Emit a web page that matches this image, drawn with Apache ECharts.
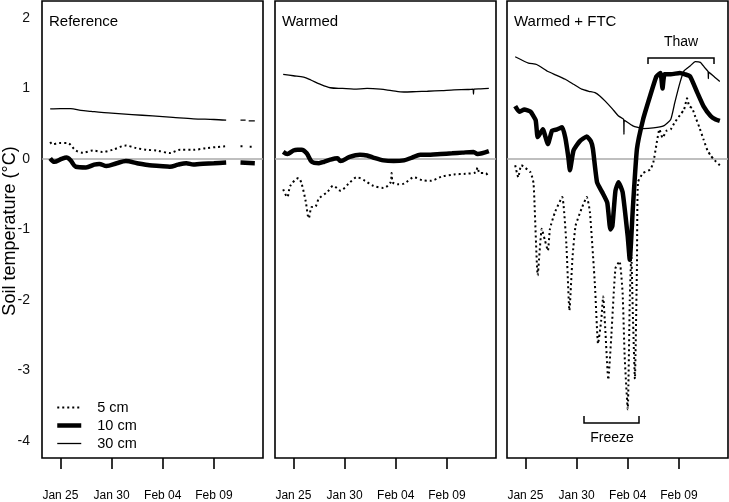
<!DOCTYPE html>
<html>
<head>
<meta charset="utf-8">
<script src="https://cdn.jsdelivr.net/npm/echarts@6/dist/echarts.min.js"></script>
<style>
html,body{margin:0;padding:0;background:#fff;}
#chart{width:729px;height:502px;}
</style>
</head>
<body>
<div id="chart"></div>
<script>
// x values are day numbers counted from Jan 0 (Jan 25 = 25, Feb 04 = 35)
const tickDays = [25, 30, 35, 40];
const tickLabels = ['Jan 25', 'Jan 30', 'Feb 04', 'Feb 09'];
const yTicks = [-4, -3, -2, -1, 0, 1, 2];
const panelNames = ['Reference', 'Warmed', 'Warmed + FTC'];
const depthNames = ['5 cm', '10 cm', '30 cm'];

// Reference
const ref5Days = [24, 24.2, 24.9, 25.7, 26.5, 27.2, 28.2, 29.1, 30.1, 31.4, 32.4, 33.4, 34.4, 35.7, 36.7, 38.0, 39.3, 40.3, 41.2, 41.9, 42.6, 43.0, 43.2, 43.5, 44.0];
const ref5Vals = [0.24, 0.21, 0.225, 0.225, 0.12, 0.09, 0.12, 0.10, 0.13, 0.19, 0.155, 0.13, 0.12, 0.085, 0.13, 0.13, 0.155, 0.17, 0.18, null, 0.18, 0.18, null, 0.175, 0.175];
const ref10Days = [24, 24.4, 25.1, 25.6, 26.0, 26.5, 27.5, 28.3, 28.8, 29.5, 30.5, 31.4, 32.5, 33.7, 34.7, 35.7, 36.5, 37.3, 38.0, 38.6, 40.0, 41.2, 41.9, 42.6, 44.0];
const ref10Vals = [0.01, -0.04, 0.0, 0.02, -0.02, -0.11, -0.12, -0.08, -0.07, -0.10, -0.06, -0.03, -0.06, -0.09, -0.10, -0.11, -0.08, -0.06, -0.08, -0.07, -0.06, -0.05, null, -0.05, -0.06];
const ref30Days = [24, 25, 26, 27, 28, 29, 30, 32, 34, 36, 38, 40, 41.2, 41.9, 42.6, 43.1, 43.25, 43.4, 44.0];
const ref30Vals = [0.71, 0.715, 0.715, 0.69, 0.675, 0.66, 0.65, 0.63, 0.61, 0.59, 0.57, 0.56, 0.55, null, 0.55, 0.55, null, 0.54, 0.54];

// Warmed
const warm5Days = [24.0, 24.4, 24.7, 25.5, 25.8, 26.2, 26.5, 26.8, 27.1, 27.5, 28.3, 28.9, 29.6, 30.4, 31.2, 32.0, 32.8, 33.8, 34.5, 34.6, 34.7, 35.2, 35.8, 36.8, 37.6, 38.4, 39.5, 40.7, 41.8, 42.8, 43.0, 43.2, 43.8, 44.0];
const warm5Vals = [-0.43, -0.54, -0.38, -0.27, -0.35, -0.60, -0.84, -0.68, -0.68, -0.56, -0.47, -0.38, -0.45, -0.35, -0.26, -0.31, -0.38, -0.41, -0.33, -0.20, -0.33, -0.36, -0.35, -0.26, -0.30, -0.31, -0.25, -0.22, -0.21, -0.19, -0.12, -0.20, -0.20, -0.24];
const warm10Days = [24.0, 24.4, 25.0, 25.4, 25.8, 26.3, 26.8, 27.5, 28.0, 28.6, 29.3, 29.6, 30.5, 31.5, 32.2, 32.8, 33.8, 34.8, 35.8, 36.6, 37.4, 38.4, 39.4, 40.5, 41.5, 42.6, 43.0, 44.1];
const warm10Vals = [0.10, 0.07, 0.12, 0.13, 0.13, 0.08, -0.04, -0.06, -0.04, -0.01, 0.01, -0.03, 0.03, 0.06, 0.05, 0.02, -0.02, -0.03, -0.02, 0.02, 0.06, 0.06, 0.07, 0.08, 0.09, 0.10, 0.07, 0.11];
const warm30Days = [24, 25, 26, 26.7, 27.6, 28.6, 29.8, 30.9, 32.2, 33.5, 34.6, 35.8, 37.0, 38.1, 39.5, 40.7, 42.0, 42.55, 42.6, 42.65, 43.3, 44.1];
const warm30Vals = [1.20, 1.18, 1.16, 1.12, 1.06, 1.01, 1.0, 0.99, 1.0, 0.99, 0.97, 0.95, 0.955, 0.96, 0.97, 0.98, 0.985, 0.99, 0.92, 0.99, 0.995, 1.0];

// Warmed + FTC
const ftc5Days = [24.0, 24.3, 24.6, 25.5, 25.8, 26.2, 26.6, 26.9, 27.2, 27.4, 27.9, 28.6, 29.0, 29.3, 29.6, 29.9, 30.5, 31.0, 31.3, 31.8, 32.1, 32.4, 32.6, 32.8, 33.1, 33.4, 33.8, 34.2, 34.5, 34.7, 35.0, 35.2, 35.35, 35.5, 35.7, 35.9, 36.0, 36.5, 37.2, 37.5, 37.8, 38.1, 38.4, 38.8, 39.2, 39.6, 40.1, 40.5, 40.8, 41.0, 41.3, 41.6, 42.0, 42.4, 42.8, 43.1, 43.5, 44.0];
const ftc5Vals = [-0.09, -0.26, -0.09, -0.19, -0.35, -1.65, -0.99, -1.15, -1.30, -0.99, -0.75, -0.54, -1.20, -2.15, -1.40, -0.95, -0.70, -0.54, -0.75, -1.80, -2.62, -2.30, -1.95, -2.40, -3.13, -2.50, -1.55, -1.45, -1.90, -2.80, -3.55, -2.00, -1.35, -2.20, -3.12, -1.50, -0.33, -0.20, -0.15, -0.05, 0.20, 0.42, 0.30, 0.40, 0.42, 0.52, 0.62, 0.70, 0.86, 0.75, 0.72, 0.60, 0.45, 0.28, 0.12, 0.05, -0.02, -0.09];
const ftc10Days = [24.0, 24.4, 24.9, 25.5, 26.0, 26.2, 26.7, 27.2, 27.6, 28.1, 28.6, 28.9, 29.2, 29.35, 29.7, 30.3, 31.0, 31.4, 31.6, 32.0, 32.5, 33.0, 33.3, 33.5, 33.8, 34.1, 34.5, 35.0, 35.2, 35.5, 35.9, 36.5, 37.2, 37.8, 38.2, 38.4, 38.6, 39.2, 40.1, 40.6, 41.1, 41.8, 42.4, 43.1, 43.6, 44.0];
const ftc10Vals = [0.75, 0.67, 0.70, 0.67, 0.55, 0.31, 0.42, 0.21, 0.40, 0.42, 0.45, 0.30, 0.02, -0.16, 0.12, 0.25, 0.32, 0.25, 0.14, -0.33, -0.47, -0.62, -1.0, -0.95, -0.45, -0.33, -0.47, -1.1, -1.43, -0.7, 0.14, 0.56, 0.9, 1.17, 1.22, 1.0, 1.2, 1.2, 1.22, 1.2, 1.17, 0.94, 0.75, 0.61, 0.56, 0.54];
const ftc30Days = [24.0, 25.3, 26.1, 27.2, 28.0, 28.9, 29.7, 30.5, 31.2, 31.8, 32.3, 32.8, 33.5, 34.1, 34.6, 34.63, 34.66, 35.5, 36.5, 37.5, 38.5, 39.2, 39.6, 40.1, 40.5, 41.1, 41.6, 42.1, 42.5, 42.85, 42.88, 42.92, 43.5, 44.0];
const ftc30Vals = [1.45, 1.36, 1.34, 1.24, 1.19, 1.13, 1.06, 0.99, 0.96, 0.94, 0.89, 0.82, 0.71, 0.61, 0.56, 0.35, 0.55, 0.47, 0.43, 0.44, 0.47, 0.56, 0.80, 1.08, 1.25, 1.32, 1.38, 1.37, 1.30, 1.24, 1.14, 1.23, 1.16, 1.10];

const panels = [
  [[ref5Days, ref5Vals], [ref10Days, ref10Vals], [ref30Days, ref30Vals]],
  [[warm5Days, warm5Vals], [warm10Days, warm10Vals], [warm30Days, warm30Vals]],
  [[ftc5Days, ftc5Vals], [ftc10Days, ftc10Vals], [ftc30Days, ftc30Vals]]
];

const FONT = 'Liberation Sans, Arial, sans-serif';
const lefts = [42, 275, 507];
const styles = [
  {color: '#000', width: 2, type: [2, 3]},
  {color: '#000', width: 4.5, type: 'solid'},
  {color: '#000', width: 1.3, type: 'solid'}
];

const grid = lefts.map(l => ({left: l, top: 1, width: 221, height: 460, show: true, borderColor: '#000', borderWidth: 1.6, backgroundColor: 'transparent'}));
const xAxis = lefts.map((l, i) => ({
  type: 'value', gridIndex: i, min: 23.2, max: 44.8, position: 'bottom',
  axisLine: {show: false, onZero: false}, splitLine: {show: false},
  axisTick: {show: true, customValues: tickDays, length: 11, lineStyle: {color: '#000', width: 1.6}},
  axisLabel: {show: true, customValues: tickDays, margin: 32, fontSize: 12, color: '#000', fontFamily: FONT,
    formatter: v => tickLabels[tickDays.indexOf(v)]}
}));
const yAxis = lefts.map((l, i) => ({
  type: 'value', gridIndex: i, min: -4.24, max: 2.24,
  axisLine: {show: false, onZero: false}, splitLine: {show: false}, axisTick: {show: false},
  axisLabel: {show: i === 0, customValues: yTicks, margin: 12, fontSize: 14, color: '#111', fontFamily: FONT}
}));

const series = [];
panels.forEach((p, gi) => {
  p.forEach((s, di) => {
    const [days, vals] = s;
    const ser = {
      name: depthNames[di], type: 'line', xAxisIndex: gi, yAxisIndex: gi,
      data: days.map((d, k) => [d, vals[k] === null ? '-' : vals[k]]),
      showSymbol: false, symbol: 'none', smooth: gi === 2 ? 0.15 : 0.3,
      lineStyle: styles[di], itemStyle: {color: '#000'}, z: 3, animation: false,
      emphasis: {disabled: true}
    };
    if (di === 0) {
      ser.markLine = {silent: true, symbol: 'none', animation: false, z: 1,
        label: {show: false}, lineStyle: {color: '#aaa', width: 1.5, type: 'solid'},
        data: [{yAxis: 0}]};
    }
    series.push(ser);
  });
});

const graphic = [
  {type: 'text', x: 10, y: 231, rotation: Math.PI / 2,
    style: {text: 'Soil temperature (°C)', font: '18px ' + FONT, fill: '#000', align: 'center', verticalAlign: 'middle'}},
  ...panelNames.map((n, i) => ({type: 'text', x: lefts[i] + 7, y: 22,
    style: {text: n, font: '15px ' + FONT, fill: '#000', align: 'left', verticalAlign: 'middle'}})),
  {type: 'polyline', shape: {points: [[648, 64], [648, 58], [714, 58], [714, 64]]}, style: {stroke: '#000', lineWidth: 1.5, fill: null}},
  {type: 'text', x: 681, y: 42, style: {text: 'Thaw', font: '14px ' + FONT, fill: '#000', align: 'center', verticalAlign: 'middle'}},
  {type: 'polyline', shape: {points: [[584, 416], [584, 423], [639, 423], [639, 416]]}, style: {stroke: '#000', lineWidth: 1.5, fill: null}},
  {type: 'text', x: 612, y: 438, style: {text: 'Freeze', font: '14px ' + FONT, fill: '#000', align: 'center', verticalAlign: 'middle'}}
];

const chart = echarts.init(document.getElementById('chart'), null, {renderer: 'canvas'});
chart.setOption({
  backgroundColor: '#fff',
  animation: false,
  grid, xAxis, yAxis, series, graphic,
  legend: {
    data: depthNames, orient: 'vertical', left: 55, top: 400, padding: 0,
    itemWidth: 24, itemHeight: 14, itemGap: 3,
    lineStyle: {width: 'inherit'},
    itemStyle: {color: 'transparent', borderColor: 'transparent', borderWidth: 0, opacity: 0},
    textStyle: {fontSize: 14.5, color: '#000', fontFamily: FONT, padding: [0, 0, 0, 11]},
    selectedMode: false
  }
});
</script>
</body>
</html>
